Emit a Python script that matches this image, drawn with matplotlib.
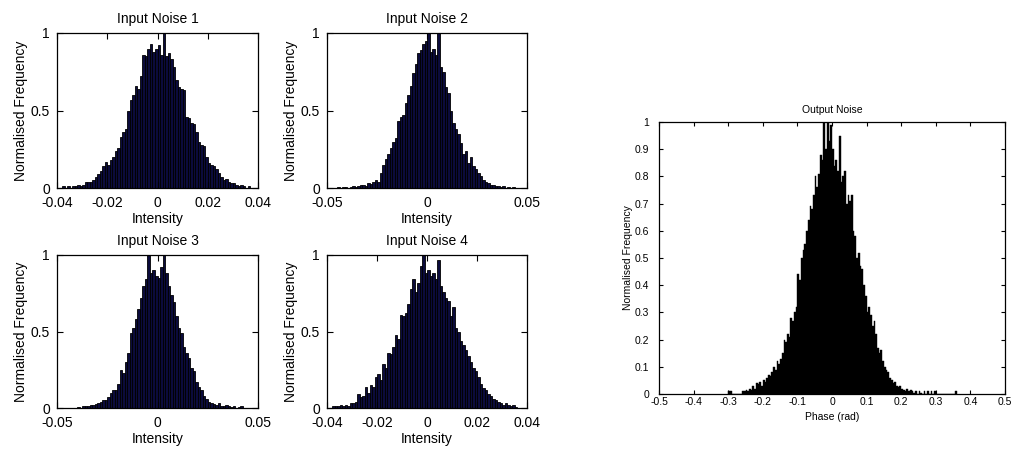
import numpy as np
import matplotlib
matplotlib.use("Agg")
import matplotlib.pyplot as plt
from matplotlib.ticker import FixedLocator, FuncFormatter

plt.rcParams['font.family'] = ['Liberation Sans', 'DejaVu Sans']
plt.rcParams['axes.unicode_minus'] = False

# ---- histogram data (normalised bin counts) ----
noise1_first_edge = -0.038
noise1_bin_width = 0.001
noise1_counts = [
    0.01, 0.0, 0.01, 0.0, 0.01, 0.01, 0.02, 0.01, 0.02, 0.04,
    0.04, 0.04, 0.05, 0.07, 0.09, 0.11, 0.14, 0.17, 0.15, 0.18,
    0.20, 0.24, 0.26, 0.33, 0.36, 0.38, 0.50, 0.57, 0.60, 0.66,
    0.64, 0.72, 0.86, 0.85, 0.90, 0.93, 0.88, 0.90, 0.92, 0.86,
    1.00, 0.85, 0.87, 0.83, 0.78, 0.70, 0.65, 0.64, 0.63, 0.46,
    0.45, 0.42, 0.41, 0.36, 0.30, 0.28, 0.27, 0.20, 0.16, 0.15,
    0.14, 0.12, 0.10, 0.07, 0.05, 0.06, 0.04, 0.03, 0.03, 0.02,
    0.01, 0.02, 0.01, 0.0, 0.015,
]

noise2_first_edge = -0.045
noise2_bin_width = 0.00125
noise2_counts = [
    0.005, 0.0, 0.005, 0.005, 0.0, 0.005, 0.01, 0.005, 0.01, 0.02,
    0.02, 0.015, 0.03, 0.025, 0.04, 0.05, 0.04, 0.10, 0.15, 0.19,
    0.22, 0.26, 0.30, 0.32, 0.43, 0.46, 0.47, 0.55, 0.60, 0.66,
    0.74, 0.80, 0.87, 0.89, 0.93, 0.95, 1.00, 0.88, 0.90, 0.86,
    1.00, 0.78, 0.75, 0.65, 0.61, 0.50, 0.42, 0.38, 0.35, 0.29,
    0.22, 0.24, 0.16, 0.20, 0.14, 0.12, 0.10, 0.08, 0.05, 0.04,
    0.03, 0.02, 0.02, 0.01, 0.01, 0.005, 0.01, 0.0, 0.005, 0.0,
    0.005, 0.0,
]

noise3_first_edge = -0.045
noise3_bin_width = 0.00125
noise3_counts = [
    0.0, 0.0, 0.0, 0.0, 0.005, 0.0, 0.01, 0.01, 0.015, 0.02,
    0.02, 0.025, 0.03, 0.04, 0.05, 0.05, 0.07, 0.10, 0.12, 0.12,
    0.16, 0.25, 0.23, 0.30, 0.36, 0.49, 0.52, 0.58, 0.65, 0.72,
    0.80, 0.84, 1.00, 0.88, 0.90, 0.86, 0.85, 0.92, 1.00, 0.88,
    0.80, 0.74, 0.69, 0.60, 0.52, 0.49, 0.40, 0.36, 0.33, 0.26,
    0.24, 0.17, 0.14, 0.12, 0.08, 0.06, 0.04, 0.03, 0.025, 0.02,
    0.03, 0.015, 0.01, 0.02, 0.01, 0.005, 0.01, 0.0, 0.005, 0.01,
    0.0, 0.0,
]

noise4_first_edge = -0.038
noise4_bin_width = 0.001
noise4_counts = [
    0.01, 0.01, 0.01, 0.02, 0.01, 0.02, 0.01, 0.03, 0.03, 0.04,
    0.09, 0.07, 0.08, 0.14, 0.10, 0.15, 0.14, 0.20, 0.22, 0.18,
    0.29, 0.26, 0.36, 0.35, 0.40, 0.48, 0.45, 0.61, 0.60, 0.62,
    0.68, 0.78, 0.84, 0.76, 0.82, 0.93, 1.00, 0.88, 0.90, 0.86,
    0.88, 0.84, 0.97, 0.80, 0.76, 0.72, 0.70, 0.60, 0.66, 0.52,
    0.50, 0.44, 0.41, 0.38, 0.34, 0.30, 0.26, 0.24, 0.20, 0.16,
    0.13, 0.12, 0.09, 0.08, 0.06, 0.05, 0.04, 0.03, 0.02, 0.03,
    0.02, 0.01, 0.02, 0.005, 0.0, 0.0,
]

output_first_edge = -0.30
output_bin_width = 0.005
output_counts = [
    0.01, 0.01, 0.0, 0.0, 0.0, 0.0, 0.0, 0.0, 0.01, 0.01,
    0.015, 0.01, 0.02, 0.015, 0.03, 0.02, 0.04, 0.035, 0.045, 0.03,
    0.05, 0.045, 0.06, 0.07, 0.065, 0.08, 0.10, 0.09, 0.12, 0.11,
    0.13, 0.15, 0.20, 0.19, 0.22, 0.21, 0.28, 0.27, 0.30, 0.32,
    0.44, 0.42, 0.50, 0.53, 0.55, 0.60, 0.64, 0.69, 0.68, 0.73,
    0.80, 0.76, 0.81, 0.88, 0.86, 1.00, 0.90, 1.00, 0.93, 0.99,
    0.90, 0.84, 0.86, 0.82, 0.95, 0.78, 0.80, 0.82, 0.70, 0.73,
    0.71, 0.73, 0.60, 0.58, 0.50, 0.52, 0.47, 0.46, 0.40, 0.36,
    0.30, 0.32, 0.29, 0.25, 0.27, 0.22, 0.17, 0.15, 0.16, 0.12,
    0.10, 0.09, 0.08, 0.06, 0.05, 0.04, 0.045, 0.03, 0.025, 0.03,
    0.02, 0.015, 0.01, 0.02, 0.01, 0.015, 0.01, 0.005, 0.01, 0.0,
    0.01, 0.005, 0.0, 0.01, 0.0, 0.01, 0.0, 0.01, 0.0, 0.01,
    0.0, 0.0, 0.0, 0.0, 0.0, 0.0, 0.0, 0.0, 0.0, 0.0,
    0.0, 0.01,
]

small_titles = ["Input Noise 1", "Input Noise 2", "Input Noise 3", "Input Noise 4"]
small_xticks = [
    [-0.04, -0.02, 0, 0.02, 0.04],
    [-0.05, 0, 0.05],
    [-0.05, 0, 0.05],
    [-0.04, -0.02, 0, 0.02, 0.04],
]
small_yticks = [0, 0.5, 1]
output_xticks = [-0.5, -0.4, -0.3, -0.2, -0.1, 0, 0.1, 0.2, 0.3, 0.4, 0.5]
output_yticks = [0, 0.1, 0.2, 0.3, 0.4, 0.5, 0.6, 0.7, 0.8, 0.9, 1]


def fmt(v, _pos=None):
    if abs(v) < 1e-12:
        return "0"
    return ("%g" % v)


def centres(first_edge, width, counts):
    return first_edge + width * (np.arange(len(counts)) + 0.5)


def style_axes(ax, xticks, yticks, fs, ticklen, xpad, ypad):
    ax.set_xlim(xticks[0], xticks[-1])
    ax.set_ylim(0, 1)
    ax.xaxis.set_major_locator(FixedLocator(xticks))
    ax.yaxis.set_major_locator(FixedLocator(yticks))
    ax.xaxis.set_major_formatter(FuncFormatter(fmt))
    ax.yaxis.set_major_formatter(FuncFormatter(fmt))
    ax.tick_params(direction='in', top=True, right=True, length=ticklen,
                   width=0.8, labelsize=fs, colors='black')
    ax.tick_params(axis='x', pad=xpad)
    ax.tick_params(axis='y', pad=ypad)
    for s in ax.spines.values():
        s.set_linewidth(0.9)
        s.set_color('black')


fig = plt.figure(figsize=(10.16, 4.5), dpi=100)
W, H = 1016.0, 450.0

# pixel boxes (left, top, right, bottom)
boxes = [
    (57, 33, 258, 188),
    (327, 33, 527, 188),
    (57, 255, 258, 408),
    (327, 255, 527, 408),
]
small_data = [
    (noise1_first_edge, noise1_bin_width, noise1_counts),
    (noise2_first_edge, noise2_bin_width, noise2_counts),
    (noise3_first_edge, noise3_bin_width, noise3_counts),
    (noise4_first_edge, noise4_bin_width, noise4_counts),
]

for k in range(4):
    l, t, r, b = boxes[k]
    ax = fig.add_axes([l / W, 1 - b / H, (r - l) / W, (b - t) / H])
    e0, bw, cnt = small_data[k]
    ax.bar(centres(e0, bw, cnt), cnt, width=bw, color='#0b0b3c',
           edgecolor='black', linewidth=0.6)
    style_axes(ax, small_xticks[k], small_yticks, 10, 4, 5.5, 5)
    ax.set_title(small_titles[k], fontsize=10, pad=7)
    ax.set_xlabel("Intensity", fontsize=10, labelpad=1.5)
    ax.set_ylabel("Normalised Frequency", fontsize=10, labelpad=2)

l, t, r, b = (659, 122, 1005, 394)
axo = fig.add_axes([l / W, 1 - b / H, (r - l) / W, (b - t) / H])
axo.bar(centres(output_first_edge, output_bin_width, output_counts), output_counts,
        width=output_bin_width, color='black', edgecolor='black', linewidth=0.3)
style_axes(axo, output_xticks, output_yticks, 7.5, 3, 2, 7)
axo.set_title("Output Noise", fontsize=7.5, pad=6.5)
axo.set_xlabel("Phase (rad)", fontsize=7.5, labelpad=4)
axo.set_ylabel("Normalised Frequency", fontsize=7.5, labelpad=1)

fig.savefig("out.png", dpi=100)
